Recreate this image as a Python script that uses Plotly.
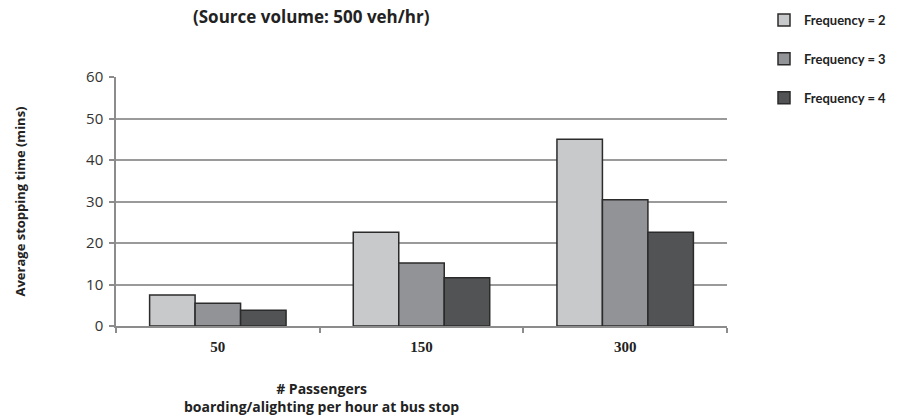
import plotly.graph_objects as go

categories = ["50", "150", "300"]
series_names = ["Frequency = 2", "Frequency = 3", "Frequency = 4"]
freq2 = [7.5, 22.6, 45.0]
freq3 = [5.5, 15.2, 30.4]
freq4 = [3.8, 11.6, 22.6]
y_ticks = [0, 10, 20, 30, 40, 50, 60]

colors = ["#c8c9cb", "#929396", "#525355"]
series = [freq2, freq3, freq4]

fig = go.Figure()
for i, (name, vals) in enumerate(zip(series_names, series)):
    fig.add_trace(go.Bar(
        x=categories, y=vals, name=f"<b>{name}</b>",
        marker=dict(color=colors[i], line=dict(color="#2b2b2b", width=1.5)),
        legendgroup=name,
    ))

W, H = 899, 420
L, R, T, B = 116, 172, 77, 94
pw, ph = W - L - R, H - T - B

def px_x(x):
    return (x - L) / pw

def px_y(y):
    return (H - B - y) / ph

sans = "Open Sans, Lato, DejaVu Sans, sans-serif"

fig.update_layout(
    width=W, height=H,
    margin=dict(l=L, r=R, t=T, b=B, autoexpand=False),
    paper_bgcolor="white", plot_bgcolor="white",
    barmode="group", bargap=0.33, bargroupgap=0,
    showlegend=True,
    legend=dict(
        x=px_x(764), y=px_y(5), xanchor="left", yanchor="top",
        font=dict(family="Lato, Open Sans, sans-serif", size=13, color="#222"),
        tracegroupgap=19, itemwidth=30,
        bgcolor="rgba(0,0,0,0)",
    ),
    xaxis=dict(
        type="category",
        tickvals=categories,
        ticktext=[f"<b>{c}</b>" for c in categories],
        showline=True, linecolor="#8c8c8c", linewidth=1.5,
        ticks="outside", tickson="boundaries", ticklen=5,
        tickcolor="#8c8c8c", tickwidth=1.5,
        ticklabelstandoff=6,
        tickfont=dict(family="Liberation Serif, Times New Roman, serif", size=15, color="#222"),
        showgrid=False,
    ),
    yaxis=dict(
        range=[0, 60], tickvals=y_ticks,
        showline=True, linecolor="#8c8c8c", linewidth=1.5,
        ticks="outside", ticklen=5, tickcolor="#8c8c8c", tickwidth=1.5,
        ticklabelstandoff=3,
        showgrid=True, gridcolor="#9a9a9a", gridwidth=1.5,
        zeroline=False,
        tickfont=dict(family=sans, size=15, color="#333"),
        title=dict(text="<b>Average stopping time (mins)</b>",
                   font=dict(family=sans, size=13, color="#222"), standoff=58),
    ),
)

fig.add_annotation(
    text="<b>(Source volume: 500 veh/hr)</b>",
    x=px_x(311), y=px_y(16), xref="paper", yref="paper",
    xanchor="center", yanchor="middle", showarrow=False,
    font=dict(family=sans, size=17, color="#222"),
)
fig.add_annotation(
    text="<b># Passengers<br>boarding/alighting per hour at bus stop</b>",
    x=px_x(321), y=px_y(397), xref="paper", yref="paper",
    xanchor="center", yanchor="middle", showarrow=False,
    font=dict(family=sans, size=14, color="#222"),
)

fig.write_html("out.html")
